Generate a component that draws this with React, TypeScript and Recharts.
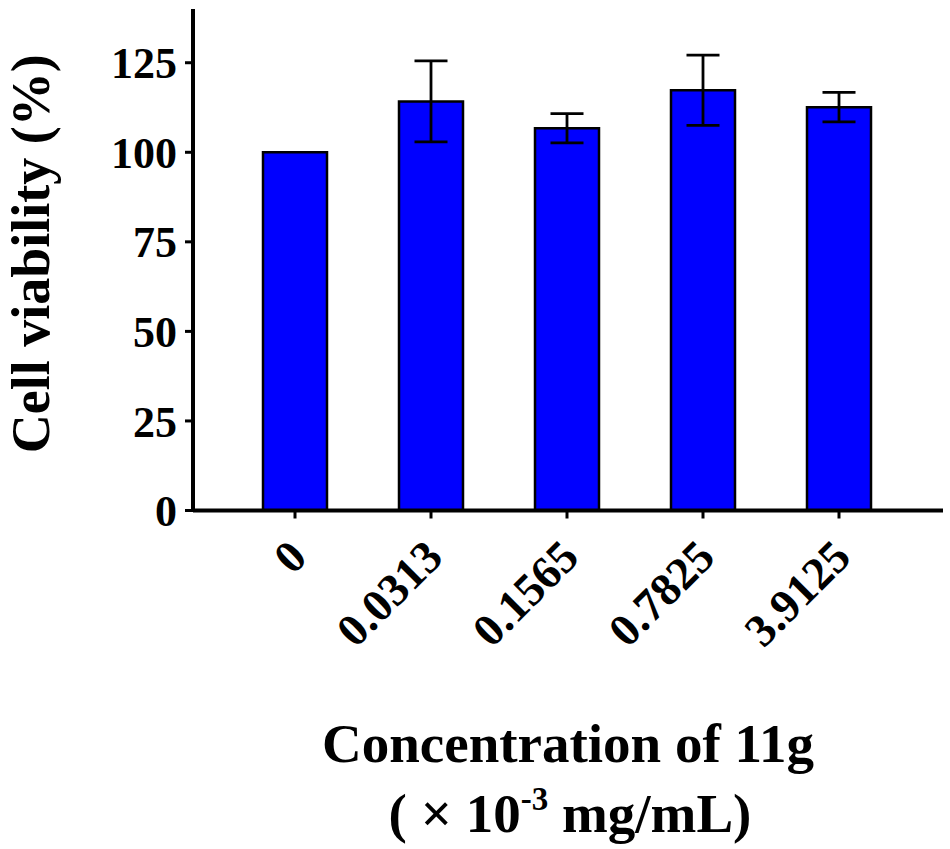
import { BarChart, Bar, XAxis, YAxis, ErrorBar, Label } from 'recharts';

const concentrations = ['0', '0.0313', '0.1565', '0.7825', '3.9125'];
const viability = [100, 114.2, 106.7, 117.3, 112.6];
const viabilitySd = [0, 11.3, 4.1, 9.8, 4.1];
const yTicks = [0, 25, 50, 75, 100, 125];

const FONT = '"Liberation Serif", "Times New Roman", serif';

const chartData = concentrations.map((name, i) => ({
  name,
  value: viability[i],
  err: viabilitySd[i],
}));

function RotatedTick({ x, y, payload }: any) {
  const tx = x + 14;
  const ty = y + 41;
  return (
    <text
      x={tx}
      y={ty}
      textAnchor="end"
      transform={`rotate(-45, ${tx}, ${ty})`}
      fontFamily={FONT}
      fontWeight="bold"
      fontSize={46}
      fill="#000"
    >
      {payload.value}
    </text>
  );
}

function XTitle({ viewBox }: any) {
  const cx = viewBox.x + viewBox.width / 2;
  return (
    <g fontFamily={FONT} fontWeight="bold" fill="#000" textAnchor="middle">
      <text x={cx} y={762} fontSize={55}>
        Concentration of 11g
      </text>
      <text x={cx + 2} y={832} fontSize={55}>
        ( × 10
        <tspan dy={-22} fontSize={33}>-3</tspan>
        <tspan dy={22}> mg/mL)</tspan>
      </text>
    </g>
  );
}

function YTitle({ viewBox }: any) {
  const cy = viewBox.y + viewBox.height / 2 - 6;
  const lx = 49;
  return (
    <text
      x={lx}
      y={cy}
      transform={`rotate(-90, ${lx}, ${cy})`}
      textAnchor="middle"
      fontFamily={FONT}
      fontWeight="bold"
      fontSize={54}
      fill="#000"
    >
      Cell viability (%)
    </text>
  );
}

export default function App() {
  return (
    <div style={{ position: 'absolute', left: 0, top: 0, background: '#fff' }}>
      <BarChart
        width={950}
        height={849}
        data={chartData}
        margin={{ top: 9, right: 7, bottom: 0, left: 0 }}
      >
        <XAxis
          dataKey="name"
          height={338.5}
          padding={{ left: 34, right: 36 }}
          axisLine={{ stroke: '#000', strokeWidth: 4 }}
          tickLine={{ stroke: '#000', strokeWidth: 3 }}
          tickSize={8}
          tickMargin={0}
          tick={<RotatedTick />}
          interval={0}
        >
          <Label content={<XTitle />} />
        </XAxis>
        <YAxis
          width={193}
          domain={[0, 140]}
          ticks={yTicks}
          axisLine={{ stroke: '#000', strokeWidth: 4 }}
          tickLine={{ stroke: '#000', strokeWidth: 3 }}
          tickSize={8}
          tickMargin={8}
          tick={{ fontFamily: FONT, fontWeight: 'bold', fontSize: 44, fill: '#000' }}
        >
          <Label content={<YTitle />} />
        </YAxis>
        <Bar
          dataKey="value"
          fill="#0000ff"
          stroke="#000"
          strokeWidth={2.5}
          barSize={64}
          isAnimationActive={false}
        >
          <ErrorBar dataKey="err" width={16.5} stroke="#000" strokeWidth={2.8} />
        </Bar>
      </BarChart>
    </div>
  );
}
